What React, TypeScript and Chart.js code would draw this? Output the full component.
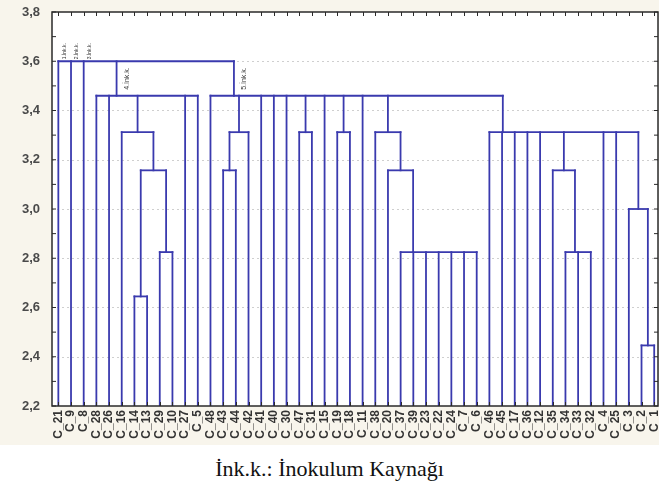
import React, { useEffect, useRef } from "react";
import { Chart, registerables } from "chart.js";
Chart.register(...registerables);

// Leaf order along the x axis (left to right)
const leafLabels = [
  "C_21", "C_9", "C_8", "C_28", "C_26", "C_16", "C_14", "C_13", "C_29", "C_10",
  "C_27", "C_5", "C_48", "C_43", "C_44", "C_42", "C_41", "C_40", "C_30", "C_47",
  "C_31", "C_15", "C_19", "C_18", "C_11", "C_38", "C_20", "C_37", "C_39", "C_23",
  "C_22", "C_24", "C_7", "C_6", "C_46", "C_45", "C_17", "C_36", "C_12", "C_35",
  "C_34", "C_33", "C_32", "C_4", "C_25", "C_3", "C_2", "C_1",
];

// Linkage distance of each merge (in merge order)
const mergeHeights = [
  2.645, 2.825, 3.157, 3.312, 3.46,
  3.157, 3.312, 3.312, 3.312, 2.825,
  3.157, 3.312, 2.825, 3.157, 2.446,
  3.0, 3.312, 3.46, 3.6,
];

// Children of each merge: 0..47 = leaf index, 48+k = merge k
const mergeChildren: number[][] = [
  [6, 7], // 48
  [8, 9], // 49
  [48, 49], // 50
  [5, 50], // 51
  [3, 4, 51, 10, 11], // 52
  [13, 14], // 53
  [53, 15], // 54
  [19, 20], // 55
  [22, 23], // 56
  [27, 28, 29, 30, 31, 32, 33], // 57
  [26, 57], // 58
  [25, 58], // 59
  [40, 41, 42], // 60
  [39, 60], // 61
  [46, 47], // 62
  [45, 62], // 63
  [34, 35, 36, 37, 38, 61, 43, 44, 63], // 64
  [12, 54, 16, 17, 18, 55, 21, 56, 24, 59, 64], // 65
  [0, 1, 2, 52, 65], // 66
];

// Notes written beside the branches of the top merge
const groupNotes = ["1.İnk.k.", "2.İnk.k.", "3.İnk.k.", "4.İnk.k.", "5.İnk.k."];

const yMin = 2.2;
const yMax = 3.8;
const yStep = 0.2;
const caption = "İnk.k.: İnokulum Kaynağı";

const LINE = "#3a3aae";

function layoutTree() {
  const n = leafLabels.length;
  const pos: number[] = leafLabels.map((_, i) => i);
  const hgt: number[] = leafLabels.map(() => yMin);
  mergeChildren.forEach((kids, k) => {
    let c = pos[kids[kids.length - 1]];
    for (let j = kids.length - 2; j >= 0; j--) c = (pos[kids[j]] + c) / 2;
    pos[n + k] = c;
    hgt[n + k] = mergeHeights[k];
  });
  const segs: { x: number; y: number }[][] = [];
  mergeChildren.forEach((kids, k) => {
    const h = mergeHeights[k];
    segs.push([
      { x: pos[kids[0]], y: h },
      { x: pos[kids[kids.length - 1]], y: h },
    ]);
    kids.forEach((c) => segs.push([{ x: pos[c], y: hgt[c] }, { x: pos[c], y: h }]));
  });
  return { pos, hgt, segs, n };
}

export default function App() {
  const ref = useRef<HTMLCanvasElement | null>(null);
  useEffect(() => {
    document.body.style.margin = "0";
    const canvas = ref.current!;
    const { pos, segs, n } = layoutTree();

    const bgPlugin = {
      id: "bg",
      beforeDraw(chart: any) {
        const { ctx, chartArea: a, width, height } = chart;
        ctx.save();
        ctx.fillStyle = "#f8f5ec";
        ctx.fillRect(0, 0, width, height);
        ctx.fillStyle = "#ffffff";
        ctx.fillRect(a.left, a.top, a.right - a.left, a.bottom - a.top);
        ctx.restore();
      },
      beforeDatasetsDraw(chart: any) {
        const { ctx, chartArea: a, scales } = chart;
        const ys = scales.y;
        ctx.save();
        ctx.strokeStyle = "#cfcfcf";
        ctx.lineWidth = 1;
        ctx.setLineDash([2, 3]);
        for (let v = yMin + yStep; v < yMax - 1e-6; v += yStep) {
          const py = Math.round(ys.getPixelForValue(v)) + 0.5;
          ctx.beginPath();
          ctx.moveTo(a.left, py);
          ctx.lineTo(a.right, py);
          ctx.stroke();
        }
        ctx.restore();
      },
      afterDatasetsDraw(chart: any) {
        const { ctx, chartArea: a, scales } = chart;
        const xs = scales.x;
        const ys = scales.y;
        ctx.save();
        // frame
        ctx.strokeStyle = "#2a2a2a";
        ctx.lineWidth = 1.5;
        ctx.strokeRect(a.left, a.top, a.right - a.left, a.bottom - a.top);
        ctx.lineWidth = 1;
        ctx.beginPath();
        // minor ticks on y
        for (let v = yMin; v <= yMax + 1e-6; v += yStep / 2) {
          const py = ys.getPixelForValue(v);
          ctx.moveTo(a.left, py);
          ctx.lineTo(a.left + 4, py);
          ctx.moveTo(a.right, py);
          ctx.lineTo(a.right - 4, py);
        }
        // ticks at each leaf, top and bottom
        leafLabels.forEach((_, i) => {
          const px = Math.round(xs.getPixelForValue(i)) + 0.5;
          ctx.moveTo(px, a.top);
          ctx.lineTo(px, a.top + 4);
          ctx.moveTo(px, a.bottom);
          ctx.lineTo(px, a.bottom - 4);
        });
        ctx.stroke();
        // group notes
        const top = mergeChildren[mergeChildren.length - 1];
        const yTop = ys.getPixelForValue(mergeHeights[mergeHeights.length - 1]);
        ctx.fillStyle = "#333";
        top.forEach((c, j) => {
          const note = groupNotes[j];
          if (!note) return;
          const px = xs.getPixelForValue(pos[c]);
          ctx.save();
          if (c < n) {
            ctx.font = '5px "Liberation Sans", Arial, sans-serif';
            ctx.translate(px + 6, yTop - 2);
            ctx.rotate(-Math.PI / 2);
            ctx.textAlign = "left";
          } else {
            ctx.font = '7px "Liberation Sans", Arial, sans-serif';
            ctx.translate(px + 10, yTop + 6);
            ctx.rotate(-Math.PI / 2);
            ctx.textAlign = "right";
          }
          ctx.textBaseline = "middle";
          ctx.fillText(note, 0, 0);
          ctx.restore();
        });
        ctx.restore();
      },
    };

    const chart = new Chart(canvas, {
      type: "scatter",
      data: {
        datasets: segs.map((s) => ({
          data: s,
          showLine: true,
          borderColor: LINE,
          borderWidth: 1.8,
          borderCapStyle: "square",
          pointRadius: 0,
          pointHoverRadius: 0,
          fill: false,
        })) as any,
      },
      options: {
        animation: false,
        responsive: false,
        events: [],
        layout: { padding: { top: 12, right: 1, left: 0, bottom: 0 } },
        plugins: { legend: { display: false }, tooltip: { enabled: false } },
        scales: {
          x: {
            type: "linear",
            min: -0.5,
            max: n - 0.7,
            grid: { display: false, drawTicks: false },
            border: { display: false },
            afterBuildTicks: (s: any) => {
              s.ticks = leafLabels.map((_, i) => ({ value: i }));
            },
            afterFit: (s: any) => {
              s.height = 39;
              s.paddingLeft = 0;
              s.paddingRight = 0;
            },
            ticks: {
              autoSkip: false,
              maxRotation: 90,
              minRotation: 90,
              padding: 4,
              color: "#333",
              font: { family: '"Liberation Sans", Arial, sans-serif', size: 12, weight: "bold" },
              callback: (v: any) => leafLabels[v] ?? "",
            },
          },
          y: {
            type: "linear",
            min: yMin,
            max: yMax,
            grid: { display: false, drawTicks: false },
            border: { display: false },
            afterFit: (s: any) => {
              s.width = 52;
              s.paddingTop = 0;
              s.paddingBottom = 0;
            },
            ticks: {
              stepSize: yStep,
              padding: 12,
              color: "#4a4a4a",
              font: { family: '"Liberation Sans", Arial, sans-serif', size: 13, weight: "bold" },
              callback: (v: any) => Number(v).toFixed(1).replace(".", ","),
            },
          },
        },
      } as any,
      plugins: [bgPlugin],
    });
    return () => chart.destroy();
  }, []);

  return (
    <div style={{ width: 659, height: 497, background: "#fff" }}>
      <canvas ref={ref} width={659} height={445} style={{ display: "block" }} />
      <div
        style={{
          height: 48,
          lineHeight: "48px",
          textAlign: "center",
          fontFamily: '"Liberation Serif", "Times New Roman", serif',
          fontSize: 22,
          color: "#111",
        }}
      >
        {caption}
      </div>
    </div>
  );
}
